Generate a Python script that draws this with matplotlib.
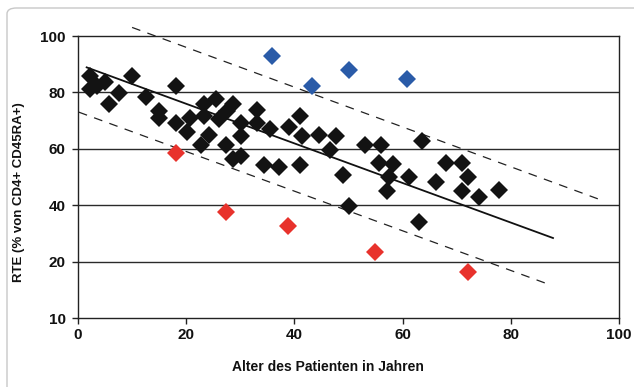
import matplotlib
matplotlib.use("Agg")
import matplotlib.pyplot as plt
from matplotlib.patches import FancyBboxPatch
import numpy as np

# Data (age in years, RTE %)
black_x = [2.3, 2.3, 3.5, 5.0, 5.7, 7.6, 9.9, 12.5, 15.0, 15.0, 18.2, 18.2, 20.1, 20.7,
           22.7, 23.2, 23.2, 24.3, 25.5, 26.1, 27.3, 27.6, 28.7, 28.7, 30.1, 30.1, 30.1,
           33.0, 33.0, 34.3, 35.5, 37.2, 39.0, 41.0, 41.0, 41.4, 44.6, 46.5, 47.6, 49.0,
           50.1, 53.0, 56.0, 55.7, 57.4, 57.1, 58.2, 61.2, 63.0, 63.6, 66.2, 68.1, 70.9,
           70.9, 72.1, 74.1, 77.9]
black_y = [85.9, 81.2, 82.2, 83.7, 75.9, 79.8, 85.9, 78.4, 73.5, 71.0, 82.2, 69.3, 66.0, 71.0,
           61.2, 75.9, 71.5, 64.8, 77.5, 70.6, 61.2, 73.5, 75.9, 56.5, 69.3, 64.4, 57.6,
           73.9, 69.3, 54.1, 67.1, 53.5, 67.6, 71.7, 54.4, 64.4, 65.0, 59.7, 64.4, 50.6,
           39.8, 61.2, 61.2, 55.0, 49.9, 45.2, 54.5, 49.9, 34.0, 62.6, 48.2, 55.0, 55.0,
           45.2, 49.9, 42.8, 45.4]
blue_x = [35.8, 43.2, 50.1, 60.8]
blue_y = [92.8, 82.3, 87.9, 84.8]
red_x = [18.1, 27.4, 38.8, 54.9, 72.1]
red_y = [58.6, 37.7, 32.7, 23.4, 16.2]

# Regression line and prediction bands: (intercept, slope, x_start, x_end)
fit_line = (90.0, -0.702, 1.6, 87.8)
upper_band = (110.1, -0.706, 10.0, 96.1)
lower_band = (73.1, -0.703, 0.15, 86.4)

x_ticks = [0, 20, 40, 60, 80, 100]
y_ticks = [0, 20, 40, 60, 80, 100]
y_tick_labels = ["10", "20", "40", "60", "80", "100"]

FONT = ['Liberation Sans Narrow', 'Liberation Sans', 'DejaVu Sans']

fig = plt.figure(figsize=(6.34, 3.87), dpi=100)
border = FancyBboxPatch((7/634, -0.2), 1.2, 1.2 - 8/387, boxstyle="round,pad=0,rounding_size=0.015",
                        transform=fig.transFigure, fill=False, edgecolor="#c8c8c8", linewidth=1.0)
fig.patches.append(border)

ax = fig.add_axes([78/634, 1-318/387, (619-78)/634, (318-36)/387])
ax.set_xlim(0, 100)
ax.set_ylim(0, 100)

for y in [20, 40, 60, 80]:
    ax.axhline(y, color="#2a2a2a", linewidth=1.0, zorder=1)

def draw_line(params, **kw):
    b, m, x0, x1 = params
    xs = np.array([x0, x1])
    ax.plot(xs, b + m * xs, clip_on=False, **kw)

draw_line(fit_line, color="#111111", linewidth=1.3, zorder=2)
draw_line(upper_band, color="#222222", linewidth=0.9, dashes=(7, 6), zorder=2)
draw_line(lower_band, color="#222222", linewidth=0.9, dashes=(7, 6), zorder=2)

ms = 8.7
ax.plot(black_x, black_y, 'D', color="#131313", markersize=ms, markeredgewidth=0, zorder=3)
ax.plot(blue_x, blue_y, 'D', color="#2a5ba8", markersize=ms, markeredgewidth=0, zorder=3)
ax.plot(red_x, red_y, 'D', color="#e8322c", markersize=ms, markeredgewidth=0, zorder=3)

for s in ax.spines.values():
    s.set_color("#222222")
    s.set_linewidth(1.0)

ax.set_xticks(x_ticks)
ax.set_yticks(y_ticks)
ax.set_yticklabels(y_tick_labels)
ax.tick_params(axis='both', length=4, width=1, color="#222222")
ax.tick_params(axis='x', pad=3)
ax.tick_params(axis='y', pad=5)
for lab in ax.get_xticklabels() + ax.get_yticklabels():
    lab.set_fontfamily(FONT)
    lab.set_fontweight('bold')
    lab.set_fontsize(11)
    lab.set_color("#111111")

fig.text(328/634, 1-367/387, "Alter des Patienten in Jahren", ha='center', va='center',
         family=FONT, fontweight='bold', fontsize=10, color="#111111")
fig.text(19/634, 1-192/387, "RTE (% von CD4+ CD45RA+)", ha='center', va='center', rotation=90,
         family=FONT, fontweight='bold', fontsize=9.5, color="#111111")

fig.savefig("out.png", dpi=100)
